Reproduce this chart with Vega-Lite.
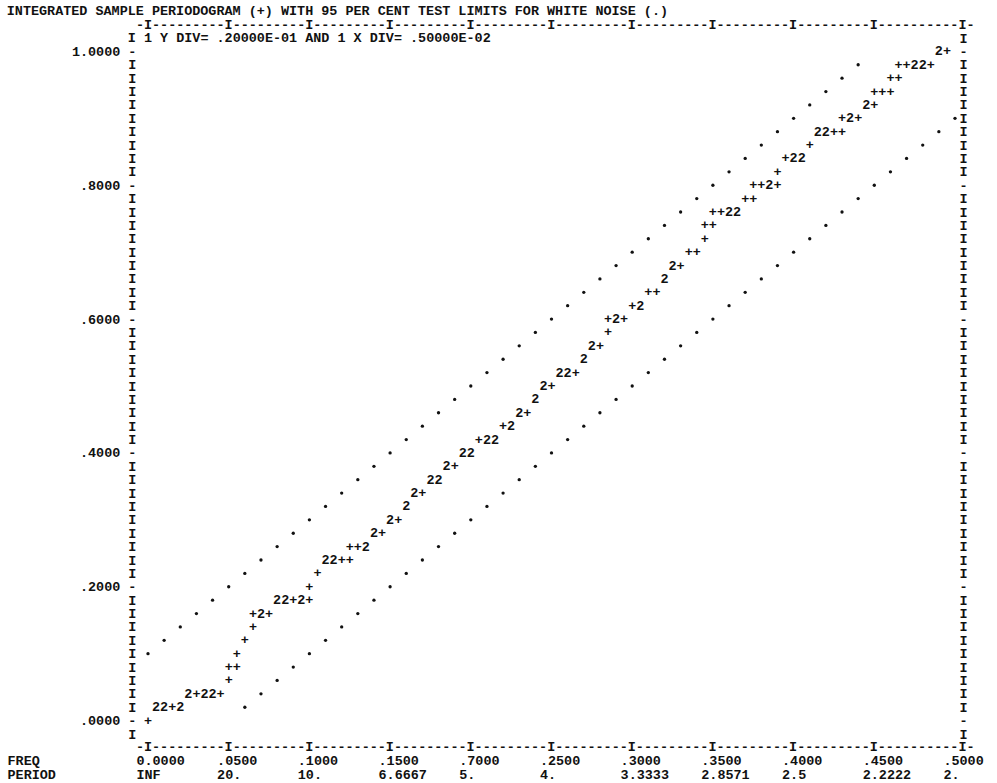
{
  "$schema": "https://vega.github.io/schema/vega-lite/v6.json",
  "width": 807,
  "height": 696,
  "autosize": {"type": "none"},
  "padding": {"left": 148, "top": 38, "right": 42, "bottom": 49},
  "background": "white",
  "config": {"view": {"stroke": null}},
  "datasets": {
    "pgram": [
      {"f":0,"v":0,"ch":"+"},
      {"f":0.005,"v":0.02,"ch":"2"},{"f":0.010,"v":0.02,"ch":"2"},{"f":0.015,"v":0.02,"ch":"+"},{"f":0.020,"v":0.02,"ch":"2"},
      {"f":0.025,"v":0.04,"ch":"2"},{"f":0.030,"v":0.04,"ch":"+"},{"f":0.035,"v":0.04,"ch":"2"},{"f":0.040,"v":0.04,"ch":"2"},{"f":0.045,"v":0.04,"ch":"+"},
      {"f":0.050,"v":0.06,"ch":"+"},
      {"f":0.050,"v":0.08,"ch":"+"},{"f":0.055,"v":0.08,"ch":"+"},
      {"f":0.055,"v":0.10,"ch":"+"},
      {"f":0.060,"v":0.12,"ch":"+"},
      {"f":0.065,"v":0.14,"ch":"+"},
      {"f":0.065,"v":0.16,"ch":"+"},{"f":0.070,"v":0.16,"ch":"2"},{"f":0.075,"v":0.16,"ch":"+"},
      {"f":0.080,"v":0.18,"ch":"2"},{"f":0.085,"v":0.18,"ch":"2"},{"f":0.090,"v":0.18,"ch":"+"},{"f":0.095,"v":0.18,"ch":"2"},{"f":0.100,"v":0.18,"ch":"+"},
      {"f":0.100,"v":0.20,"ch":"+"},
      {"f":0.105,"v":0.22,"ch":"+"},
      {"f":0.110,"v":0.24,"ch":"2"},{"f":0.115,"v":0.24,"ch":"2"},{"f":0.120,"v":0.24,"ch":"+"},{"f":0.125,"v":0.24,"ch":"+"},
      {"f":0.125,"v":0.26,"ch":"+"},{"f":0.130,"v":0.26,"ch":"+"},{"f":0.135,"v":0.26,"ch":"2"},
      {"f":0.140,"v":0.28,"ch":"2"},{"f":0.145,"v":0.28,"ch":"+"},
      {"f":0.150,"v":0.30,"ch":"2"},{"f":0.155,"v":0.30,"ch":"+"},
      {"f":0.160,"v":0.32,"ch":"2"},
      {"f":0.165,"v":0.34,"ch":"2"},{"f":0.170,"v":0.34,"ch":"+"},
      {"f":0.175,"v":0.36,"ch":"2"},{"f":0.180,"v":0.36,"ch":"2"},
      {"f":0.185,"v":0.38,"ch":"2"},{"f":0.190,"v":0.38,"ch":"+"},
      {"f":0.195,"v":0.40,"ch":"2"},{"f":0.200,"v":0.40,"ch":"2"},
      {"f":0.205,"v":0.42,"ch":"+"},{"f":0.210,"v":0.42,"ch":"2"},{"f":0.215,"v":0.42,"ch":"2"},
      {"f":0.220,"v":0.44,"ch":"+"},{"f":0.225,"v":0.44,"ch":"2"},
      {"f":0.230,"v":0.46,"ch":"2"},{"f":0.235,"v":0.46,"ch":"+"},
      {"f":0.240,"v":0.48,"ch":"2"},
      {"f":0.245,"v":0.50,"ch":"2"},{"f":0.250,"v":0.50,"ch":"+"},
      {"f":0.255,"v":0.52,"ch":"2"},{"f":0.260,"v":0.52,"ch":"2"},{"f":0.265,"v":0.52,"ch":"+"},
      {"f":0.270,"v":0.54,"ch":"2"},
      {"f":0.275,"v":0.56,"ch":"2"},{"f":0.280,"v":0.56,"ch":"+"},
      {"f":0.285,"v":0.58,"ch":"+"},
      {"f":0.285,"v":0.60,"ch":"+"},{"f":0.290,"v":0.60,"ch":"2"},{"f":0.295,"v":0.60,"ch":"+"},
      {"f":0.300,"v":0.62,"ch":"+"},{"f":0.305,"v":0.62,"ch":"2"},
      {"f":0.310,"v":0.64,"ch":"+"},{"f":0.315,"v":0.64,"ch":"+"},
      {"f":0.320,"v":0.66,"ch":"2"},
      {"f":0.325,"v":0.68,"ch":"2"},{"f":0.330,"v":0.68,"ch":"+"},
      {"f":0.335,"v":0.70,"ch":"+"},{"f":0.340,"v":0.70,"ch":"+"},
      {"f":0.345,"v":0.72,"ch":"+"},
      {"f":0.345,"v":0.74,"ch":"+"},{"f":0.350,"v":0.74,"ch":"+"},
      {"f":0.350,"v":0.76,"ch":"+"},{"f":0.355,"v":0.76,"ch":"+"},{"f":0.360,"v":0.76,"ch":"2"},{"f":0.365,"v":0.76,"ch":"2"},
      {"f":0.370,"v":0.78,"ch":"+"},{"f":0.375,"v":0.78,"ch":"+"},
      {"f":0.375,"v":0.80,"ch":"+"},{"f":0.380,"v":0.80,"ch":"+"},{"f":0.385,"v":0.80,"ch":"2"},{"f":0.390,"v":0.80,"ch":"+"},
      {"f":0.390,"v":0.82,"ch":"+"},
      {"f":0.395,"v":0.84,"ch":"+"},{"f":0.400,"v":0.84,"ch":"2"},{"f":0.405,"v":0.84,"ch":"2"},
      {"f":0.410,"v":0.86,"ch":"+"},
      {"f":0.415,"v":0.88,"ch":"2"},{"f":0.420,"v":0.88,"ch":"2"},{"f":0.425,"v":0.88,"ch":"+"},{"f":0.430,"v":0.88,"ch":"+"},
      {"f":0.430,"v":0.90,"ch":"+"},{"f":0.435,"v":0.90,"ch":"2"},{"f":0.440,"v":0.90,"ch":"+"},
      {"f":0.445,"v":0.92,"ch":"2"},{"f":0.450,"v":0.92,"ch":"+"},
      {"f":0.450,"v":0.94,"ch":"+"},{"f":0.455,"v":0.94,"ch":"+"},{"f":0.460,"v":0.94,"ch":"+"},
      {"f":0.460,"v":0.96,"ch":"+"},{"f":0.465,"v":0.96,"ch":"+"},
      {"f":0.465,"v":0.98,"ch":"+"},{"f":0.470,"v":0.98,"ch":"+"},{"f":0.475,"v":0.98,"ch":"2"},{"f":0.480,"v":0.98,"ch":"2"},{"f":0.485,"v":0.98,"ch":"+"},
      {"f":0.490,"v":1.00,"ch":"2"},{"f":0.495,"v":1.00,"ch":"+"}
    ],
    "limits": [
      {"f":0.00,"v":0.10,"b":"upper"},{"f":0.01,"v":0.12,"b":"upper"},{"f":0.02,"v":0.14,"b":"upper"},{"f":0.03,"v":0.16,"b":"upper"},{"f":0.04,"v":0.18,"b":"upper"},
      {"f":0.05,"v":0.20,"b":"upper"},{"f":0.06,"v":0.22,"b":"upper"},{"f":0.07,"v":0.24,"b":"upper"},{"f":0.08,"v":0.26,"b":"upper"},{"f":0.09,"v":0.28,"b":"upper"},
      {"f":0.10,"v":0.30,"b":"upper"},{"f":0.11,"v":0.32,"b":"upper"},{"f":0.12,"v":0.34,"b":"upper"},{"f":0.13,"v":0.36,"b":"upper"},{"f":0.14,"v":0.38,"b":"upper"},
      {"f":0.15,"v":0.40,"b":"upper"},{"f":0.16,"v":0.42,"b":"upper"},{"f":0.17,"v":0.44,"b":"upper"},{"f":0.18,"v":0.46,"b":"upper"},{"f":0.19,"v":0.48,"b":"upper"},
      {"f":0.20,"v":0.50,"b":"upper"},{"f":0.21,"v":0.52,"b":"upper"},{"f":0.22,"v":0.54,"b":"upper"},{"f":0.23,"v":0.56,"b":"upper"},{"f":0.24,"v":0.58,"b":"upper"},
      {"f":0.25,"v":0.60,"b":"upper"},{"f":0.26,"v":0.62,"b":"upper"},{"f":0.27,"v":0.64,"b":"upper"},{"f":0.28,"v":0.66,"b":"upper"},{"f":0.29,"v":0.68,"b":"upper"},
      {"f":0.30,"v":0.70,"b":"upper"},{"f":0.31,"v":0.72,"b":"upper"},{"f":0.32,"v":0.74,"b":"upper"},{"f":0.33,"v":0.76,"b":"upper"},{"f":0.34,"v":0.78,"b":"upper"},
      {"f":0.35,"v":0.80,"b":"upper"},{"f":0.36,"v":0.82,"b":"upper"},{"f":0.37,"v":0.84,"b":"upper"},{"f":0.38,"v":0.86,"b":"upper"},{"f":0.39,"v":0.88,"b":"upper"},
      {"f":0.40,"v":0.90,"b":"upper"},{"f":0.41,"v":0.92,"b":"upper"},{"f":0.42,"v":0.94,"b":"upper"},{"f":0.43,"v":0.96,"b":"upper"},{"f":0.44,"v":0.98,"b":"upper"},
      {"f":0.06,"v":0.02,"b":"lower"},{"f":0.07,"v":0.04,"b":"lower"},{"f":0.08,"v":0.06,"b":"lower"},{"f":0.09,"v":0.08,"b":"lower"},{"f":0.10,"v":0.10,"b":"lower"},
      {"f":0.11,"v":0.12,"b":"lower"},{"f":0.12,"v":0.14,"b":"lower"},{"f":0.13,"v":0.16,"b":"lower"},{"f":0.14,"v":0.18,"b":"lower"},{"f":0.15,"v":0.20,"b":"lower"},
      {"f":0.16,"v":0.22,"b":"lower"},{"f":0.17,"v":0.24,"b":"lower"},{"f":0.18,"v":0.26,"b":"lower"},{"f":0.19,"v":0.28,"b":"lower"},{"f":0.20,"v":0.30,"b":"lower"},
      {"f":0.21,"v":0.32,"b":"lower"},{"f":0.22,"v":0.34,"b":"lower"},{"f":0.23,"v":0.36,"b":"lower"},{"f":0.24,"v":0.38,"b":"lower"},{"f":0.25,"v":0.40,"b":"lower"},
      {"f":0.26,"v":0.42,"b":"lower"},{"f":0.27,"v":0.44,"b":"lower"},{"f":0.28,"v":0.46,"b":"lower"},{"f":0.29,"v":0.48,"b":"lower"},{"f":0.30,"v":0.50,"b":"lower"},
      {"f":0.31,"v":0.52,"b":"lower"},{"f":0.32,"v":0.54,"b":"lower"},{"f":0.33,"v":0.56,"b":"lower"},{"f":0.34,"v":0.58,"b":"lower"},{"f":0.35,"v":0.60,"b":"lower"},
      {"f":0.36,"v":0.62,"b":"lower"},{"f":0.37,"v":0.64,"b":"lower"},{"f":0.38,"v":0.66,"b":"lower"},{"f":0.39,"v":0.68,"b":"lower"},{"f":0.40,"v":0.70,"b":"lower"},
      {"f":0.41,"v":0.72,"b":"lower"},{"f":0.42,"v":0.74,"b":"lower"},{"f":0.43,"v":0.76,"b":"lower"},{"f":0.44,"v":0.78,"b":"lower"},{"f":0.45,"v":0.80,"b":"lower"},
      {"f":0.46,"v":0.82,"b":"lower"},{"f":0.47,"v":0.84,"b":"lower"},{"f":0.48,"v":0.86,"b":"lower"},{"f":0.49,"v":0.88,"b":"lower"},{"f":0.50,"v":0.90,"b":"lower"}
    ]
  },
  "layer": [
    {
      "data": {"name": "pgram"},
      "mark": {"type": "text", "font": "Liberation Mono", "fontSize": 13.45, "fontWeight": "bold", "align": "center", "baseline": "middle", "color": "#111"},
      "encoding": {
        "x": {"field": "f", "type": "quantitative", "scale": {"domain": [0, 0.5], "nice": false, "zero": false},
          "axis": {
            "orient": "bottom", "values": [0,0.05,0.1,0.15,0.2,0.25,0.3,0.35,0.4,0.45,0.5],
            "labelExpr": "[['0.0000','INF'],['.0500','20.'],['.1000','10.'],['.1500','6.6667'],['.7000','5.'],['.2500','4.'],['.3000','3.3333'],['.3500','2.8571'],['.4000','2.5'],['.4500','2.2222'],['.5000','2.']][round(datum.value*20)]",
            "ticks": false, "tickSize": 0, "domain": false, "grid": false,
            "labelAlign": "left", "labelBaseline": "top", "labelPadding": 19.7, "labelOffset": -12.1, "labelLineHeight": 13.385,
            "labelFont": "Liberation Mono", "labelFontSize": 13.45, "labelFontWeight": "bold", "labelColor": "#111",
            "labelOverlap": false, "labelBound": false, "labelFlush": false,
            "title": ["FREQ", "PERIOD"], "titleX": -141, "titleY": 19.7, "titleAlign": "left", "titleBaseline": "top", "titleAngle": 0,
            "titleLineHeight": 13.385, "titleFont": "Liberation Mono", "titleFontSize": 13.45, "titleFontWeight": "bold", "titleColor": "#111"
          }},
        "y": {"field": "v", "type": "quantitative", "scale": {"domain": [-0.02, 1.02], "nice": false, "zero": false},
          "axis": {
            "orient": "left",
            "values": [-0.02,0,0.02,0.04,0.06,0.08,0.1,0.12,0.14,0.16,0.18,0.2,0.22,0.24,0.26,0.28,0.3,0.32,0.34,0.36,0.38,0.4,0.42,0.44,0.46,0.48,0.5,0.52,0.54,0.56,0.58,0.6,0.62,0.64,0.66,0.68,0.7,0.72,0.74,0.76,0.78,0.8,0.82,0.84,0.86,0.88,0.9,0.92,0.94,0.96,0.98,1],
            "labelExpr": "round(datum.value*50) % 10 == 0 ? ((datum.value > 0.99 ? '1.0000' : substring(format(datum.value, '.4f'), 1)) + ' -') : 'I'",
            "ticks": false, "tickSize": 0, "domain": false, "grid": false,
            "labelAlign": "right", "labelBaseline": "middle", "labelPadding": 12.1,
            "labelFont": "Liberation Mono", "labelFontSize": 13.45, "labelFontWeight": "bold", "labelColor": "#111",
            "labelOverlap": false, "labelBound": false, "labelFlush": false, "title": null
          }},
        "text": {"field": "ch", "type": "nominal"}
      }
    },
    {
      "data": {"name": "limits"},
      "mark": {"type": "point", "filled": true, "shape": "circle", "size": 11, "color": "#111", "opacity": 1},
      "encoding": {
        "x": {"field": "f", "type": "quantitative", "scale": {"domain": [0, 0.5], "nice": false, "zero": false}, "axis": null},
        "y": {"field": "v", "type": "quantitative", "scale": {"domain": [-0.02, 1.02], "nice": false, "zero": false},
          "axis": {
            "orient": "right",
            "values": [-0.02,0,0.02,0.04,0.06,0.08,0.1,0.12,0.14,0.16,0.18,0.2,0.22,0.24,0.26,0.28,0.3,0.32,0.34,0.36,0.38,0.4,0.42,0.44,0.46,0.48,0.5,0.52,0.54,0.56,0.58,0.6,0.62,0.64,0.66,0.68,0.7,0.72,0.74,0.76,0.78,0.8,0.82,0.84,0.86,0.88,0.9,0.92,0.94,0.96,0.98,1,1.02],
            "labelExpr": "round(datum.value*50) % 10 == 0 ? '-' : 'I'",
            "ticks": false, "tickSize": 0, "domain": false, "grid": false,
            "labelAlign": "center", "labelBaseline": "middle", "labelPadding": 8,
            "labelFont": "Liberation Mono", "labelFontSize": 13.45, "labelFontWeight": "bold", "labelColor": "#111",
            "labelOverlap": false, "labelBound": false, "labelFlush": false, "title": null
          }}
      }
    },
    {
      "data": {"values": [{}]},
      "mark": {"type": "text", "font": "Liberation Mono", "fontSize": 13.45, "fontWeight": "bold", "align": "left", "baseline": "middle", "color": "#111"},
      "encoding": {
        "x": {"datum": -0.0075, "type": "quantitative", "scale": {"domain": [0, 0.5], "nice": false, "zero": false}, "axis": null},
        "y": {"datum": 1.04, "type": "quantitative", "scale": {"domain": [-0.02, 1.02], "nice": false, "zero": false}, "axis": null},
        "text": {"value": "-I---------I---------I---------I---------I---------I---------I---------I---------I---------I----------I-"}
      }
    },
    {
      "data": {"values": [{}]},
      "mark": {"type": "text", "font": "Liberation Mono", "fontSize": 13.45, "fontWeight": "bold", "align": "left", "baseline": "middle", "color": "#111"},
      "encoding": {
        "x": {"datum": -0.0075, "type": "quantitative", "scale": {"domain": [0, 0.5], "nice": false, "zero": false}, "axis": null},
        "y": {"datum": -0.04, "type": "quantitative", "scale": {"domain": [-0.02, 1.02], "nice": false, "zero": false}, "axis": null},
        "text": {"value": "-I---------I---------I---------I---------I---------I---------I---------I---------I---------I----------I-"}
      }
    },
    {
      "data": {"values": [{}]},
      "mark": {"type": "text", "font": "Liberation Mono", "fontSize": 13.45, "fontWeight": "bold", "align": "left", "baseline": "middle", "color": "#111"},
      "encoding": {
        "x": {"datum": -0.0125, "type": "quantitative", "scale": {"domain": [0, 0.5], "nice": false, "zero": false}, "axis": null},
        "y": {"datum": 1.02, "type": "quantitative", "scale": {"domain": [-0.02, 1.02], "nice": false, "zero": false}, "axis": null},
        "text": {"value": "I 1 Y DIV=  .20000E-01 AND 1 X DIV=  .50000E-02"}
      }
    },
    {
      "data": {"values": [{}]},
      "mark": {"type": "text", "font": "Liberation Mono", "fontSize": 13.45, "fontWeight": "bold", "align": "left", "baseline": "middle", "color": "#111"},
      "encoding": {
        "x": {"datum": -0.0875, "type": "quantitative", "scale": {"domain": [0, 0.5], "nice": false, "zero": false}, "axis": null},
        "y": {"datum": 1.06, "type": "quantitative", "scale": {"domain": [-0.02, 1.02], "nice": false, "zero": false}, "axis": null},
        "text": {"value": "INTEGRATED SAMPLE PERIODOGRAM (+) WITH 95 PER CENT TEST LIMITS FOR WHITE NOISE (.)"}
      }
    }
  ],
  "resolve": {"axis": {"x": "independent", "y": "independent"}}
}
